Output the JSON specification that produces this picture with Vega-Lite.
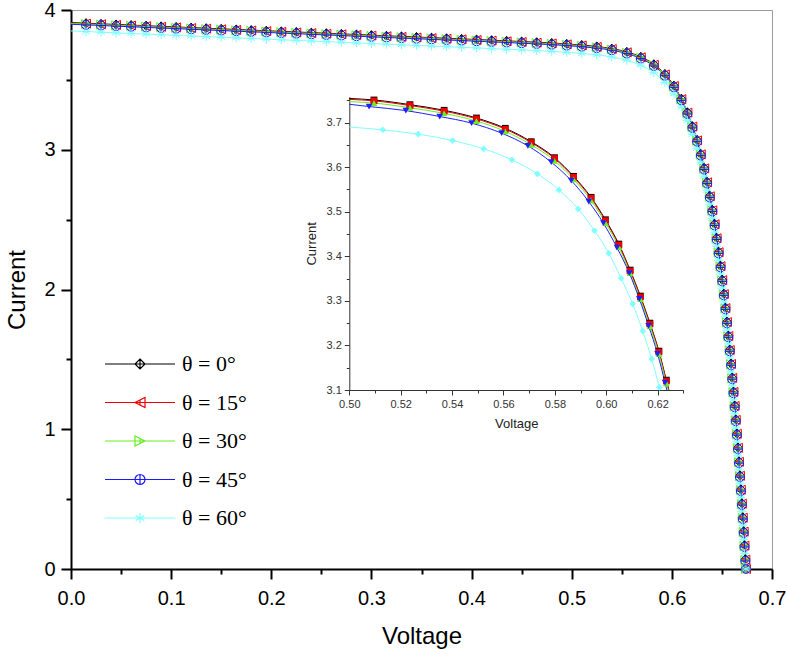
{
  "$schema": "https://vega.github.io/schema/vega-lite/v6.json",
  "width": 701,
  "height": 559,
  "autosize": {"type": "none"},
  "padding": {"left": 71, "top": 10, "right": 15, "bottom": 85},
  "config": {"view": {"stroke": "#9a9a9a", "strokeWidth": 1}, "font": "Liberation Sans"},
  "datasets": {
    "main": [
      {"v": 0, "a": 3.91, "b": 3.907, "c": 3.904, "d": 3.898, "e": 3.85},
      {"v": 0.015, "a": 3.9055, "b": 3.9025, "c": 3.8995, "d": 3.8935, "e": 3.8455},
      {"v": 0.03, "a": 3.901, "b": 3.898, "c": 3.895, "d": 3.889, "e": 3.841},
      {"v": 0.045, "a": 3.8965, "b": 3.8935, "c": 3.8905, "d": 3.8845, "e": 3.8365},
      {"v": 0.06, "a": 3.892, "b": 3.889, "c": 3.886, "d": 3.88, "e": 3.832},
      {"v": 0.075, "a": 3.8875, "b": 3.8845, "c": 3.8815, "d": 3.8755, "e": 3.8275},
      {"v": 0.09, "a": 3.883, "b": 3.88, "c": 3.877, "d": 3.871, "e": 3.823},
      {"v": 0.105, "a": 3.8785, "b": 3.8755, "c": 3.8725, "d": 3.8665, "e": 3.8185},
      {"v": 0.12, "a": 3.874, "b": 3.871, "c": 3.868, "d": 3.862, "e": 3.814},
      {"v": 0.135, "a": 3.8695, "b": 3.8665, "c": 3.8635, "d": 3.8575, "e": 3.8095},
      {"v": 0.15, "a": 3.865, "b": 3.862, "c": 3.859, "d": 3.853, "e": 3.805},
      {"v": 0.165, "a": 3.8605, "b": 3.8575, "c": 3.8545, "d": 3.8485, "e": 3.8005},
      {"v": 0.18, "a": 3.856, "b": 3.853, "c": 3.85, "d": 3.844, "e": 3.796},
      {"v": 0.195, "a": 3.8515, "b": 3.8485, "c": 3.8455, "d": 3.8395, "e": 3.7915},
      {"v": 0.21, "a": 3.847, "b": 3.844, "c": 3.841, "d": 3.835, "e": 3.787},
      {"v": 0.225, "a": 3.8425, "b": 3.8395, "c": 3.8365, "d": 3.8305, "e": 3.7825},
      {"v": 0.24, "a": 3.838, "b": 3.835, "c": 3.832, "d": 3.826, "e": 3.778},
      {"v": 0.255, "a": 3.8335, "b": 3.8305, "c": 3.8275, "d": 3.8215, "e": 3.7735},
      {"v": 0.27, "a": 3.829, "b": 3.826, "c": 3.823, "d": 3.817, "e": 3.769},
      {"v": 0.285, "a": 3.8245, "b": 3.8215, "c": 3.8185, "d": 3.8125, "e": 3.7645},
      {"v": 0.3, "a": 3.82, "b": 3.817, "c": 3.814, "d": 3.808, "e": 3.76},
      {"v": 0.315, "a": 3.8155, "b": 3.8125, "c": 3.8095, "d": 3.8035, "e": 3.7555},
      {"v": 0.33, "a": 3.811, "b": 3.808, "c": 3.805, "d": 3.799, "e": 3.751},
      {"v": 0.345, "a": 3.8065, "b": 3.8035, "c": 3.8005, "d": 3.7945, "e": 3.7465},
      {"v": 0.36, "a": 3.802, "b": 3.799, "c": 3.796, "d": 3.79, "e": 3.742},
      {"v": 0.375, "a": 3.7975, "b": 3.7945, "c": 3.7915, "d": 3.7855, "e": 3.7375},
      {"v": 0.39, "a": 3.793, "b": 3.79, "c": 3.787, "d": 3.781, "e": 3.733},
      {"v": 0.405, "a": 3.7885, "b": 3.7855, "c": 3.7825, "d": 3.7765, "e": 3.7285},
      {"v": 0.42, "a": 3.7838, "b": 3.7808, "c": 3.7778, "d": 3.7718, "e": 3.7238},
      {"v": 0.435, "a": 3.7791, "b": 3.7761, "c": 3.7731, "d": 3.7671, "e": 3.7191},
      {"v": 0.45, "a": 3.7743, "b": 3.7713, "c": 3.7683, "d": 3.7623, "e": 3.7143},
      {"v": 0.465, "a": 3.7692, "b": 3.7662, "c": 3.7632, "d": 3.7572, "e": 3.7092},
      {"v": 0.48, "a": 3.7637, "b": 3.7607, "c": 3.7577, "d": 3.7517, "e": 3.7037},
      {"v": 0.495, "a": 3.7573, "b": 3.7543, "c": 3.7513, "d": 3.7453, "e": 3.6973},
      {"v": 0.51, "a": 3.7495, "b": 3.7465, "c": 3.7435, "d": 3.7375, "e": 3.6895},
      {"v": 0.525, "a": 3.739, "b": 3.736, "c": 3.733, "d": 3.727, "e": 3.679},
      {"v": 0.54, "a": 3.7238, "b": 3.7208, "c": 3.7178, "d": 3.7118, "e": 3.6638},
      {"v": 0.555, "a": 3.7001, "b": 3.6971, "c": 3.6941, "d": 3.6881, "e": 3.6401},
      {"v": 0.569, "a": 3.6645, "b": 3.6615, "c": 3.6585, "d": 3.6525, "e": 3.6045},
      {"v": 0.582, "a": 3.6114, "b": 3.6084, "c": 3.6054, "d": 3.5994, "e": 3.5514},
      {"v": 0.593, "a": 3.5417, "b": 3.5387, "c": 3.5357, "d": 3.5297, "e": 3.4817},
      {"v": 0.602, "a": 3.4591, "b": 3.4561, "c": 3.4531, "d": 3.4471, "e": 3.3991},
      {"v": 0.6095, "a": 3.3653, "b": 3.3623, "c": 3.3593, "d": 3.3533, "e": 3.3053},
      {"v": 0.6155, "a": 3.2683, "b": 3.2653, "c": 3.2623, "d": 3.2563, "e": 3.2083},
      {"v": 0.6205, "a": 3.1686, "b": 3.1656, "c": 3.1626, "d": 3.1566, "e": 3.1086},
      {"v": 0.6252, "a": 3.07, "b": 3.067, "c": 3.064, "d": 3.058, "e": 3.01},
      {"v": 0.6289, "a": 2.97, "b": 2.967, "c": 2.964, "d": 2.958, "e": 2.91},
      {"v": 0.6323, "a": 2.87, "b": 2.867, "c": 2.864, "d": 2.858, "e": 2.81},
      {"v": 0.6352, "a": 2.77, "b": 2.767, "c": 2.764, "d": 2.758, "e": 2.71},
      {"v": 0.6379, "a": 2.67, "b": 2.667, "c": 2.664, "d": 2.658, "e": 2.61},
      {"v": 0.6404, "a": 2.57, "b": 2.567, "c": 2.564, "d": 2.558, "e": 2.51},
      {"v": 0.6427, "a": 2.47, "b": 2.467, "c": 2.464, "d": 2.458, "e": 2.41},
      {"v": 0.6447, "a": 2.37, "b": 2.367, "c": 2.364, "d": 2.358, "e": 2.31},
      {"v": 0.6467, "a": 2.27, "b": 2.267, "c": 2.264, "d": 2.258, "e": 2.21},
      {"v": 0.6486, "a": 2.17, "b": 2.167, "c": 2.164, "d": 2.158, "e": 2.11},
      {"v": 0.6503, "a": 2.07, "b": 2.067, "c": 2.064, "d": 2.058, "e": 2.01},
      {"v": 0.6519, "a": 1.97, "b": 1.967, "c": 1.964, "d": 1.958, "e": 1.91},
      {"v": 0.6535, "a": 1.87, "b": 1.867, "c": 1.864, "d": 1.858, "e": 1.81},
      {"v": 0.655, "a": 1.77, "b": 1.767, "c": 1.764, "d": 1.758, "e": 1.71},
      {"v": 0.6564, "a": 1.67, "b": 1.667, "c": 1.664, "d": 1.658, "e": 1.61},
      {"v": 0.6578, "a": 1.57, "b": 1.567, "c": 1.564, "d": 1.558, "e": 1.51},
      {"v": 0.6591, "a": 1.47, "b": 1.467, "c": 1.464, "d": 1.458, "e": 1.41},
      {"v": 0.6603, "a": 1.37, "b": 1.367, "c": 1.364, "d": 1.358, "e": 1.31},
      {"v": 0.6615, "a": 1.27, "b": 1.267, "c": 1.264, "d": 1.258, "e": 1.21},
      {"v": 0.6627, "a": 1.17, "b": 1.167, "c": 1.164, "d": 1.158, "e": 1.11},
      {"v": 0.6638, "a": 1.07, "b": 1.067, "c": 1.064, "d": 1.058, "e": 1.01},
      {"v": 0.6649, "a": 0.97, "b": 0.967, "c": 0.964, "d": 0.958, "e": 0.91},
      {"v": 0.666, "a": 0.87, "b": 0.867, "c": 0.864, "d": 0.858, "e": 0.81},
      {"v": 0.667, "a": 0.77, "b": 0.767, "c": 0.764, "d": 0.758, "e": 0.71},
      {"v": 0.668, "a": 0.67, "b": 0.667, "c": 0.664, "d": 0.658, "e": 0.61},
      {"v": 0.6689, "a": 0.57, "b": 0.567, "c": 0.564, "d": 0.558, "e": 0.51},
      {"v": 0.6699, "a": 0.47, "b": 0.467, "c": 0.464, "d": 0.458, "e": 0.41},
      {"v": 0.6708, "a": 0.37, "b": 0.367, "c": 0.364, "d": 0.358, "e": 0.31},
      {"v": 0.6717, "a": 0.27, "b": 0.267, "c": 0.264, "d": 0.258, "e": 0.21},
      {"v": 0.6725, "a": 0.17, "b": 0.167, "c": 0.164, "d": 0.158, "e": 0.11},
      {"v": 0.6734, "a": 0.07, "b": 0.067, "c": 0.064, "d": 0.058, "e": 0.01},
      {"v": 0.674, "a": 0, "b": 0, "c": 0, "d": 0, "e": 0}
    ],
    "inset": [
      {"s": "a", "v": 0.5, "i": 3.754, "m": 0},
      {"s": "a", "v": 0.5096, "i": 3.7507, "m": 1},
      {"s": "a", "v": 0.5236, "i": 3.7402, "m": 1},
      {"s": "a", "v": 0.5369, "i": 3.7276, "m": 1},
      {"s": "a", "v": 0.5495, "i": 3.7103, "m": 1},
      {"s": "a", "v": 0.5607, "i": 3.6872, "m": 1},
      {"s": "a", "v": 0.5708, "i": 3.6571, "m": 1},
      {"s": "a", "v": 0.5799, "i": 3.6212, "m": 1},
      {"s": "a", "v": 0.5873, "i": 3.5794, "m": 1},
      {"s": "a", "v": 0.5941, "i": 3.5323, "m": 1},
      {"s": "a", "v": 0.5997, "i": 3.482, "m": 1},
      {"s": "a", "v": 0.6049, "i": 3.4275, "m": 1},
      {"s": "a", "v": 0.6093, "i": 3.3691, "m": 1},
      {"s": "a", "v": 0.6133, "i": 3.3108, "m": 1},
      {"s": "a", "v": 0.617, "i": 3.2501, "m": 1},
      {"s": "a", "v": 0.6205, "i": 3.1873, "m": 1},
      {"s": "a", "v": 0.6234, "i": 3.1222, "m": 1},
      {"s": "a", "v": 0.6244, "i": 3.1, "m": 0},
      {"s": "b", "v": 0.5, "i": 3.752, "m": 0},
      {"s": "b", "v": 0.5096, "i": 3.7487, "m": 1},
      {"s": "b", "v": 0.5236, "i": 3.7382, "m": 1},
      {"s": "b", "v": 0.5369, "i": 3.7256, "m": 1},
      {"s": "b", "v": 0.5495, "i": 3.7083, "m": 1},
      {"s": "b", "v": 0.5607, "i": 3.6852, "m": 1},
      {"s": "b", "v": 0.5708, "i": 3.6551, "m": 1},
      {"s": "b", "v": 0.5799, "i": 3.6192, "m": 1},
      {"s": "b", "v": 0.5873, "i": 3.5774, "m": 1},
      {"s": "b", "v": 0.5941, "i": 3.5303, "m": 1},
      {"s": "b", "v": 0.5997, "i": 3.48, "m": 1},
      {"s": "b", "v": 0.6049, "i": 3.4255, "m": 1},
      {"s": "b", "v": 0.6093, "i": 3.3671, "m": 1},
      {"s": "b", "v": 0.6133, "i": 3.3088, "m": 1},
      {"s": "b", "v": 0.617, "i": 3.2481, "m": 1},
      {"s": "b", "v": 0.6205, "i": 3.1853, "m": 1},
      {"s": "b", "v": 0.6234, "i": 3.1202, "m": 1},
      {"s": "b", "v": 0.6243, "i": 3.1, "m": 0},
      {"s": "c", "v": 0.5, "i": 3.747, "m": 0},
      {"s": "c", "v": 0.5096, "i": 3.7437, "m": 1},
      {"s": "c", "v": 0.5236, "i": 3.7332, "m": 1},
      {"s": "c", "v": 0.5369, "i": 3.7206, "m": 1},
      {"s": "c", "v": 0.5495, "i": 3.7033, "m": 1},
      {"s": "c", "v": 0.5607, "i": 3.6802, "m": 1},
      {"s": "c", "v": 0.5708, "i": 3.6501, "m": 1},
      {"s": "c", "v": 0.5799, "i": 3.6142, "m": 1},
      {"s": "c", "v": 0.5873, "i": 3.5724, "m": 1},
      {"s": "c", "v": 0.5941, "i": 3.5253, "m": 1},
      {"s": "c", "v": 0.5997, "i": 3.475, "m": 1},
      {"s": "c", "v": 0.6049, "i": 3.4205, "m": 1},
      {"s": "c", "v": 0.6093, "i": 3.3621, "m": 1},
      {"s": "c", "v": 0.6133, "i": 3.3038, "m": 1},
      {"s": "c", "v": 0.617, "i": 3.2431, "m": 1},
      {"s": "c", "v": 0.6205, "i": 3.1803, "m": 1},
      {"s": "c", "v": 0.6234, "i": 3.1152, "m": 1},
      {"s": "c", "v": 0.6241, "i": 3.1, "m": 0},
      {"s": "d", "v": 0.5, "i": 3.741, "m": 0},
      {"s": "d", "v": 0.5077, "i": 3.7359, "m": 1},
      {"s": "d", "v": 0.522, "i": 3.7269, "m": 1},
      {"s": "d", "v": 0.5352, "i": 3.7135, "m": 1},
      {"s": "d", "v": 0.5476, "i": 3.6987, "m": 1},
      {"s": "d", "v": 0.5593, "i": 3.6762, "m": 1},
      {"s": "d", "v": 0.5695, "i": 3.6477, "m": 1},
      {"s": "d", "v": 0.5786, "i": 3.6111, "m": 1},
      {"s": "d", "v": 0.5864, "i": 3.5698, "m": 1},
      {"s": "d", "v": 0.5932, "i": 3.5227, "m": 1},
      {"s": "d", "v": 0.5989, "i": 3.4742, "m": 1},
      {"s": "d", "v": 0.6042, "i": 3.4194, "m": 1},
      {"s": "d", "v": 0.609, "i": 3.362, "m": 1},
      {"s": "d", "v": 0.6129, "i": 3.3043, "m": 1},
      {"s": "d", "v": 0.6165, "i": 3.2437, "m": 1},
      {"s": "d", "v": 0.62, "i": 3.1808, "m": 1},
      {"s": "d", "v": 0.6229, "i": 3.1164, "m": 1},
      {"s": "d", "v": 0.6236, "i": 3.1, "m": 0},
      {"s": "e", "v": 0.5, "i": 3.69, "m": 0},
      {"s": "e", "v": 0.513, "i": 3.6836, "m": 1},
      {"s": "e", "v": 0.5268, "i": 3.674, "m": 1},
      {"s": "e", "v": 0.5402, "i": 3.6596, "m": 1},
      {"s": "e", "v": 0.5523, "i": 3.641, "m": 1},
      {"s": "e", "v": 0.5633, "i": 3.6163, "m": 1},
      {"s": "e", "v": 0.5732, "i": 3.5849, "m": 1},
      {"s": "e", "v": 0.5816, "i": 3.5489, "m": 1},
      {"s": "e", "v": 0.5891, "i": 3.5063, "m": 1},
      {"s": "e", "v": 0.5954, "i": 3.4576, "m": 1},
      {"s": "e", "v": 0.601, "i": 3.4068, "m": 1},
      {"s": "e", "v": 0.6058, "i": 3.3507, "m": 1},
      {"s": "e", "v": 0.6103, "i": 3.293, "m": 1},
      {"s": "e", "v": 0.6142, "i": 3.2324, "m": 1},
      {"s": "e", "v": 0.6177, "i": 3.1696, "m": 1},
      {"s": "e", "v": 0.6207, "i": 3.1061, "m": 1},
      {"s": "e", "v": 0.621, "i": 3.1, "m": 0}
    ]
  },
  "layer": [
    {
      "data": {"name": "main"},
      "transform": [{"fold": ["a", "b", "c", "d", "e"], "as": ["k", "i"]}],
      "encoding": {
        "x": {
          "field": "v", "type": "quantitative",
          "scale": {"domain": [0, 0.7], "nice": false, "zero": false},
          "axis": {
            "title": "Voltage",
            "values": [0, 0.05, 0.1, 0.15, 0.2, 0.25, 0.3, 0.35, 0.4, 0.45, 0.5, 0.55, 0.6, 0.65, 0.7],
            "labelExpr": "abs(datum.value*10-round(datum.value*10))<0.01 ? format(datum.value,'.1f') : ''",
            "tickSize": {"condition": {"test": "abs(datum.value*10-round(datum.value*10))>0.01", "value": 5}, "value": 10},
            "grid": false, "domainColor": "#000", "domainWidth": 2, "tickColor": "#000", "tickWidth": 2,
            "labelFont": "Liberation Sans", "labelFontSize": 20, "labelColor": "#000", "labelPadding": 9,
            "labelFlush": false, "labelOverlap": false,
            "titleFont": "Liberation Sans", "titleFontSize": 24, "titleFontWeight": "normal", "titleColor": "#000", "titlePadding": 16
          }
        },
        "y": {
          "field": "i", "type": "quantitative",
          "scale": {"domain": [0, 4], "nice": false, "zero": false},
          "axis": {
            "title": "Current",
            "values": [0, 0.5, 1, 1.5, 2, 2.5, 3, 3.5, 4],
            "labelExpr": "datum.value%1==0 ? format(datum.value,'d') : ''",
            "tickSize": {"condition": {"test": "datum.value%1!=0", "value": 5}, "value": 10},
            "grid": false, "domainColor": "#000", "domainWidth": 2, "tickColor": "#000", "tickWidth": 2,
            "labelFont": "Liberation Sans", "labelFontSize": 20, "labelColor": "#000", "labelPadding": 6,
            "labelFlush": false, "labelOverlap": false,
            "titleFont": "Liberation Sans", "titleFontSize": 24, "titleFontWeight": "normal", "titleColor": "#000", "titlePadding": 14
          }
        }
      },
      "layer": [
        {
          "mark": {"type": "line", "strokeWidth": 1, "interpolate": "monotone", "clip": true},
          "encoding": {
            "color": {"field": "k", "type": "nominal", "scale": {"domain": ["a", "b", "c", "d", "e"], "range": ["#000000", "#ee0000", "#66ee22", "#1a1aff", "#80ffff"]}, "legend": null}
          }
        },
        {
          "transform": [{"filter": "datum.v > 0"}],
          "mark": {"type": "point", "filled": false, "size": 80, "strokeWidth": 1, "opacity": 1},
          "encoding": {
            "color": {"field": "k", "type": "nominal", "scale": {"domain": ["a", "b", "c", "d", "e"], "range": ["#000000", "#ee0000", "#66ee22", "#1a1aff", "#80ffff"]}, "legend": null},
            "shape": {"field": "k", "type": "nominal", "legend": null, "scale": {"domain": ["a", "b", "c", "d", "e"], "range": [
              "M0,-1L1,0L0,1L-1,0ZM0,-1V1M-1,0H1",
              "M-1,0L1,-1V1ZM0,-0.5V0.5M-1,0H1",
              "M1,0L-1,-1V1ZM0,-0.5V0.5M-1,0H1",
              "M-1,0A1,1,0,1,0,1,0A1,1,0,1,0,-1,0ZM0,-1V1M-1,0H1",
              "M0,-1V1M-0.87,-0.5L0.87,0.5M-0.87,0.5L0.87,-0.5M-1,0H1"
            ]}}
          }
        },
        {
          "transform": [{"filter": "false"}],
          "mark": {"type": "point", "filled": false, "strokeWidth": 1.2, "opacity": 1},
          "encoding": {
            "stroke": {"field": "k", "type": "nominal", "scale": {"domain": ["a", "b", "c", "d", "e"], "range": ["#000000", "#ee0000", "#66ee22", "#1a1aff", "#80ffff"]},
              "legend": {"orient": "none", "legendX": 58, "legendY": 343, "title": null, "symbolSize": 100, "symbolStrokeWidth": 1.2, "labelFont": "Liberation Serif", "labelFontSize": 22, "labelColor": "#000", "labelOffset": 31, "rowPadding": 16.5, "padding": 0,
                "labelExpr": "datum.label=='a'?'θ = 0°':datum.label=='b'?'θ = 15°':datum.label=='c'?'θ = 30°':datum.label=='d'?'θ = 45°':'θ = 60°'"}},
            "shape": {"field": "k", "type": "nominal", "scale": {"domain": ["a", "b", "c", "d", "e"], "range": [
              "M-7,0H7M0,-1L1,0L0,1L-1,0ZM0,-1V1",
              "M-7,0H7M-1,0L1,-1V1ZM0,-0.5V0.5",
              "M-7,0H7M1,0L-1,-1V1ZM0,-0.5V0.5",
              "M-7,0H7M-1,0A1,1,0,1,0,1,0A1,1,0,1,0,-1,0ZM0,-1V1",
              "M-7,0H7M0,-1V1M-0.87,-0.5L0.87,0.5M-0.87,0.5L0.87,-0.5"
            ]},
              "legend": {"orient": "none", "legendX": 58, "legendY": 343, "title": null, "symbolSize": 100, "symbolStrokeWidth": 1.2, "labelFont": "Liberation Serif", "labelFontSize": 22, "labelColor": "#000", "labelOffset": 31, "rowPadding": 16.5, "padding": 0,
                "labelExpr": "datum.label=='a'?'θ = 0°':datum.label=='b'?'θ = 15°':datum.label=='c'?'θ = 30°':datum.label=='d'?'θ = 45°':'θ = 60°'"}}
          }
        }
      ],
      "resolve": {"scale": {"shape": "independent", "stroke": "independent"}, "legend": {"shape": "independent", "stroke": "independent"}}
    },
    {
      "data": {"name": "inset"},
      "encoding": {
        "x": {
          "field": "v", "type": "quantitative",
          "scale": {"domain": [0.5, 0.63], "range": [278.3, 612.3], "nice": false, "zero": false},
          "axis": {
            "orient": "bottom", "offset": -179, "title": "Voltage",
            "values": [0.5, 0.51, 0.52, 0.53, 0.54, 0.55, 0.56, 0.57, 0.58, 0.59, 0.6, 0.61, 0.62, 0.63],
            "labelExpr": "abs(datum.value*50-round(datum.value*50))<0.01 ? format(datum.value,'.2f') : ''",
            "tickSize": {"condition": {"test": "abs(datum.value*50-round(datum.value*50))>0.01", "value": 3}, "value": 5},
            "grid": false, "domainColor": "#333", "domainWidth": 1, "tickColor": "#333", "tickWidth": 1,
            "labelFont": "Liberation Sans", "labelFontSize": 11, "labelColor": "#333", "labelPadding": 3,
            "labelFlush": false, "labelOverlap": false,
            "titleFont": "Liberation Sans", "titleFontSize": 13, "titleFontWeight": "normal", "titleColor": "#222", "titlePadding": 8
          }
        },
        "y": {
          "field": "i", "type": "quantitative",
          "scale": {"domain": [3.1, 3.758], "range": [380, 86.7], "nice": false, "zero": false},
          "axis": {
            "orient": "left", "offset": -278.3, "title": "Current",
            "values": [3.1, 3.15, 3.2, 3.25, 3.3, 3.35, 3.4, 3.45, 3.5, 3.55, 3.6, 3.65, 3.7, 3.75],
            "labelExpr": "abs(datum.value*10-round(datum.value*10))<0.01 ? format(datum.value,'.1f') : ''",
            "tickSize": {"condition": {"test": "abs(datum.value*10-round(datum.value*10))>0.01", "value": 3}, "value": 5},
            "grid": false, "domainColor": "#333", "domainWidth": 1, "tickColor": "#333", "tickWidth": 1,
            "labelFont": "Liberation Sans", "labelFontSize": 11, "labelColor": "#333", "labelPadding": 3,
            "labelFlush": false, "labelOverlap": false,
            "titleFont": "Liberation Sans", "titleFontSize": 13, "titleFontWeight": "normal", "titleColor": "#222", "titlePadding": 8
          }
        }
      },
      "layer": [
        {
          "mark": {"type": "line", "strokeWidth": 1, "interpolate": "monotone"},
          "encoding": {
            "color": {"field": "s", "type": "nominal", "scale": {"domain": ["a", "b", "c", "d", "e"], "range": ["#000000", "#ee0000", "#66ee22", "#2020ff", "#80ffff"]}, "legend": null}
          }
        },
        {
          "transform": [{"filter": "datum.m == 1"}],
          "mark": {"type": "point", "filled": true, "opacity": 1, "strokeWidth": 0},
          "encoding": {
            "color": {"field": "s", "type": "nominal", "scale": {"domain": ["a", "b", "c", "d", "e"], "range": ["#000000", "#dd1111", "#44dd22", "#1010ee", "#80ffff"]}, "legend": null},
            "shape": {"field": "s", "type": "nominal", "scale": {"domain": ["a", "b", "c", "d", "e"], "range": ["square", "square", "triangle-up", "triangle-down", "diamond"]}, "legend": null},
            "size": {"field": "s", "type": "nominal", "scale": {"domain": ["a", "b", "c", "d", "e"], "range": [45, 45, 50, 60, 60]}, "legend": null}
          }
        }
      ]
    }
  ],
  "resolve": {"scale": {"x": "independent", "y": "independent", "color": "independent", "shape": "independent", "size": "independent"}}
}
